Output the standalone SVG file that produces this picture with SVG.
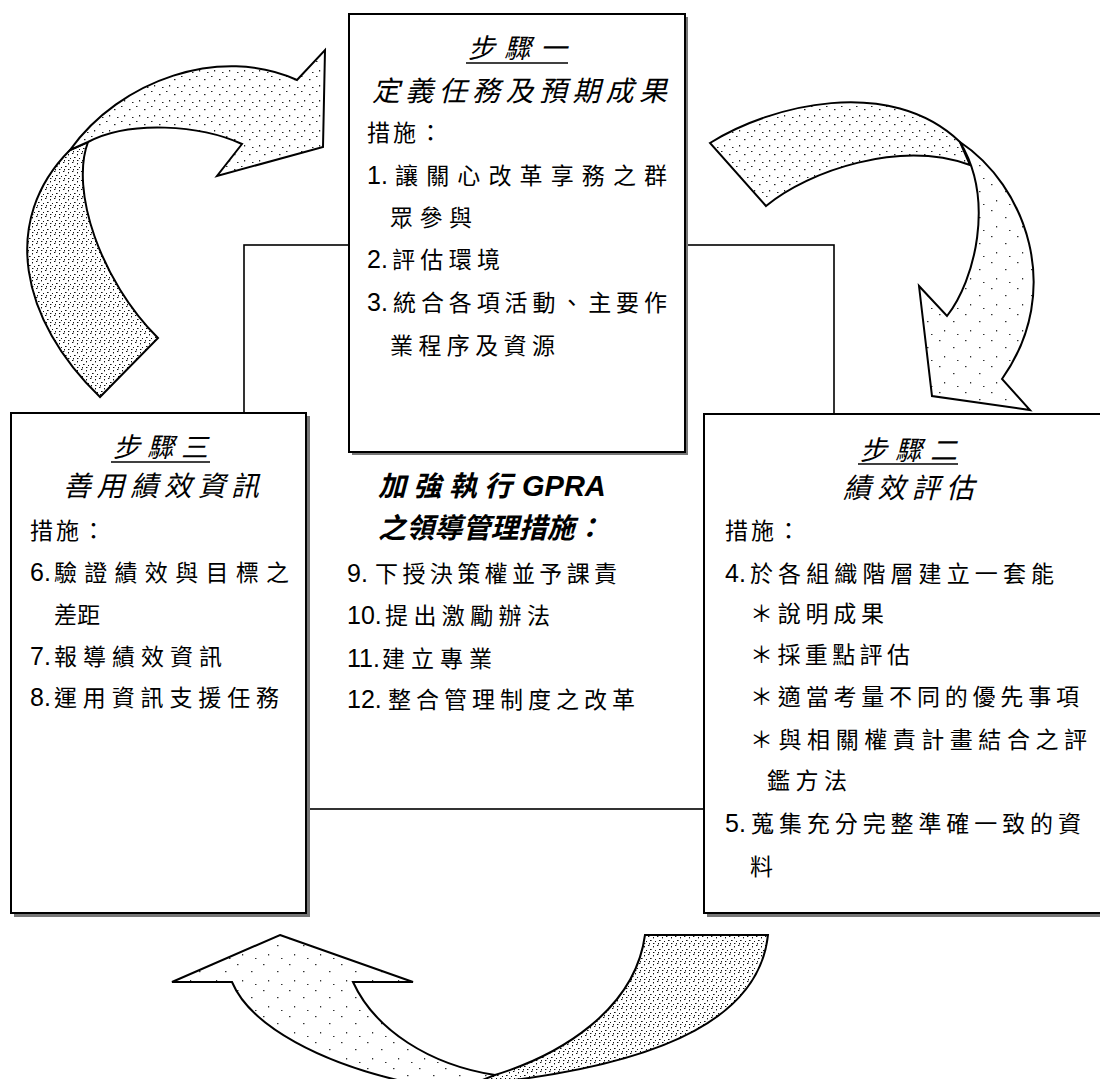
<svg xmlns="http://www.w3.org/2000/svg" width="1100" height="1079" viewBox="0 0 1100 1079">
<style>
.box{fill:#fff;stroke:#000;stroke-width:2}
.shadow{fill:#777}
.frame{fill:none;stroke:#000;stroke-width:1.6}
.t{font-family:"Noto Sans CJK TC","Noto Sans CJK SC",sans-serif;font-size:23px;fill:#000}
.n{font-family:"Liberation Sans",Arial,sans-serif;font-size:25px;fill:#000}
.h{font-family:"Noto Sans CJK TC","Noto Sans CJK SC",sans-serif;font-size:27px;font-style:italic;fill:#000}
.hb{font-family:"Noto Sans CJK TC","Noto Sans CJK SC",sans-serif;font-size:28px;font-style:italic;font-weight:bold;fill:#000}
.gb{font-family:"Liberation Sans",Arial,sans-serif;font-size:29px;font-style:italic;font-weight:bold;fill:#000}
.ul{stroke:#000;stroke-width:1.5}
.arrow{stroke:#000;stroke-width:2;stroke-linejoin:miter}
</style>
<defs>
<pattern id="pLight" width="26" height="26" patternUnits="userSpaceOnUse">
<rect width="26" height="26" fill="#fff"/>
<rect x="3" y="2" width="1.5" height="1.2" fill="#333"/>
<rect x="17" y="9" width="1.5" height="1.2" fill="#333"/>
<rect x="8" y="18" width="1.2" height="1.5" fill="#333"/>
<rect x="21" y="22" width="1.5" height="1" fill="#333"/>
</pattern>
<pattern id="pMed" width="15" height="15" patternUnits="userSpaceOnUse">
<rect width="15" height="15" fill="#fff"/>
<rect x="1" y="1" width="1.5" height="1" fill="#222"/>
<rect x="9" y="4" width="1.5" height="1.2" fill="#222"/>
<rect x="4" y="10" width="1.2" height="1.5" fill="#222"/>
<rect x="12" y="12" width="1.5" height="1" fill="#222"/>
</pattern>
<pattern id="pDark" width="9" height="9" patternUnits="userSpaceOnUse">
<rect width="9" height="9" fill="#fff"/>
<rect x="0" y="0" width="1.4" height="1" fill="#111"/>
<rect x="5" y="1" width="1" height="1.4" fill="#111"/>
<rect x="2" y="4" width="1.6" height="1" fill="#111"/>
<rect x="7" y="5" width="1" height="1" fill="#111"/>
<rect x="1" y="7" width="1" height="1.4" fill="#111"/>
<rect x="5" y="7" width="1.4" height="1" fill="#111"/>
</pattern>
</defs>

<rect width="1100" height="1079" fill="#fff"/>

<g id="gpra">
<rect class="frame" x="244" y="245" width="590" height="564"/>
<text class="hb" x="378" y="496" textLength="134" lengthAdjust="spacing">加強執行</text>
<text class="gb" x="522" y="496">GPRA</text>
<text class="hb" x="378" y="538" textLength="225" lengthAdjust="spacing">之領導管理措施：</text>
<text class="n" x="347" y="582">9.</text>
<text class="t" x="375" y="582" textLength="242" lengthAdjust="spacing">下授決策權並予課責</text>
<text class="n" x="347" y="624">10.</text>
<text class="t" x="385" y="624" textLength="165" lengthAdjust="spacing">提出激勵辦法</text>
<text class="n" x="347" y="667">11.</text>
<text class="t" x="382" y="667" textLength="110" lengthAdjust="spacing">建立專業</text>
<text class="n" x="347" y="708">12.</text>
<text class="t" x="388" y="708" textLength="247" lengthAdjust="spacing">整合管理制度之改革</text>
</g>

<g id="connectors">
<g id="arrow-3-to-1">
<path class="arrow" fill="url(#pDark)" d="M100,397 C20,320 0,220 70,150 L88,142 C70,190 100,280 158,338 Z"/>
<path class="arrow" fill="url(#pMed)" d="M70,150 C120,80 220,45 297,80 L325,50 L323,147 L217,176 L242,144 C200,125 130,120 88,142 Z"/>
</g>
<g id="arrow-1-to-2">
<path class="arrow" fill="url(#pMed)" d="M710,143 C770,105 890,75 960,142 L970,165 C900,140 810,170 766,206 Z"/>
<path class="arrow" fill="url(#pLight)" d="M960,142 C1025,185 1065,290 1002,379 L1030,410 L932,396 L919,286 L947,316 C975,280 995,200 960,142 Z"/>
</g>
<g id="arrow-2-to-3">
<path class="arrow" fill="url(#pLight)" d="M280,935 L413,982 L353,982 C375,1030 430,1065 495,1075 L500,1085 L420,1085 C320,1065 250,1025 232,982 L172,982 Z"/>
<path class="arrow" fill="url(#pDark)" d="M645,935 L768,935 C760,1010 680,1065 470,1085 L470,1085 L495,1075 C560,1055 635,1010 645,935 Z"/>
</g>
</g>

<g id="step1">
<rect class="shadow" x="352" y="17" width="336" height="438"/>
<rect class="box" x="349" y="14" width="336" height="438"/>
<text class="h" x="468" y="58" textLength="99" lengthAdjust="spacing">步驟一</text>
<line class="ul" x1="466" y1="63" x2="568" y2="63"/>
<text class="h" x="372" y="101" textLength="295" lengthAdjust="spacing" style="font-size:28px">定義任務及預期成果</text>
<text class="t" x="367" y="141" textLength="75" lengthAdjust="spacing">措施：</text>
<text class="n" x="367" y="184">1.</text>
<text class="t" x="395" y="184" textLength="272" lengthAdjust="spacing">讓關心改革享務之群</text>
<text class="t" x="390" y="226" textLength="82" lengthAdjust="spacing">眾參與</text>
<text class="n" x="367" y="268">2.</text>
<text class="t" x="392" y="268" textLength="108" lengthAdjust="spacing">評估環境</text>
<text class="n" x="367" y="311">3.</text>
<text class="t" x="393" y="311" textLength="274" lengthAdjust="spacing">統合各項活動、主要作</text>
<text class="t" x="390" y="354" textLength="165" lengthAdjust="spacing">業程序及資源</text>
</g>

<g id="step3">
<rect class="shadow" x="14" y="416" width="296" height="501"/>
<rect class="box" x="11" y="413" width="295" height="500"/>
<text class="h" x="113" y="457" textLength="95" lengthAdjust="spacing">步驟三</text>
<line class="ul" x1="111" y1="462" x2="210" y2="462"/>
<text class="h" x="63" y="496" textLength="196" lengthAdjust="spacing" style="font-size:28px">善用績效資訊</text>
<text class="t" x="30" y="539" textLength="75" lengthAdjust="spacing">措施：</text>
<text class="n" x="30" y="581">6.</text>
<text class="t" x="54" y="581" textLength="235" lengthAdjust="spacing">驗證績效與目標之</text>
<text class="t" x="54" y="623" textLength="46" lengthAdjust="spacing">差距</text>
<text class="n" x="30" y="665">7.</text>
<text class="t" x="54" y="665" textLength="168" lengthAdjust="spacing">報導績效資訊</text>
<text class="n" x="30" y="706">8.</text>
<text class="t" x="54" y="706" textLength="225" lengthAdjust="spacing">運用資訊支援任務</text>
</g>

<g id="step2">
<rect class="shadow" x="707" y="417" width="400" height="500"/>
<rect class="box" x="704" y="414" width="404" height="499"/>
<text class="h" x="860" y="460" textLength="97" lengthAdjust="spacing">步驟二</text>
<line class="ul" x1="858" y1="464" x2="958" y2="464"/>
<text class="h" x="843" y="498" textLength="131" lengthAdjust="spacing" style="font-size:28px">績效評估</text>
<text class="t" x="725" y="539" textLength="75" lengthAdjust="spacing">措施：</text>
<text class="n" x="725" y="582">4.</text>
<text class="t" x="750" y="582" textLength="304" lengthAdjust="spacing">於各組織階層建立一套能</text>
<text class="t" x="750" y="622" textLength="134" lengthAdjust="spacing">＊說明成果</text>
<text class="t" x="750" y="663" textLength="160" lengthAdjust="spacing">＊採重點評估</text>
<text class="t" x="750" y="705" textLength="329" lengthAdjust="spacing">＊適當考量不同的優先事項</text>
<text class="t" x="750" y="748" textLength="337" lengthAdjust="spacing">＊與相關權責計畫結合之評</text>
<text class="t" x="767" y="789" textLength="80" lengthAdjust="spacing">鑑方法</text>
<text class="n" x="725" y="832">5.</text>
<text class="t" x="751" y="832" textLength="330" lengthAdjust="spacing">蒐集充分完整準確一致的資</text>
<text class="t" x="750" y="875">料</text>
</g>
</svg>
